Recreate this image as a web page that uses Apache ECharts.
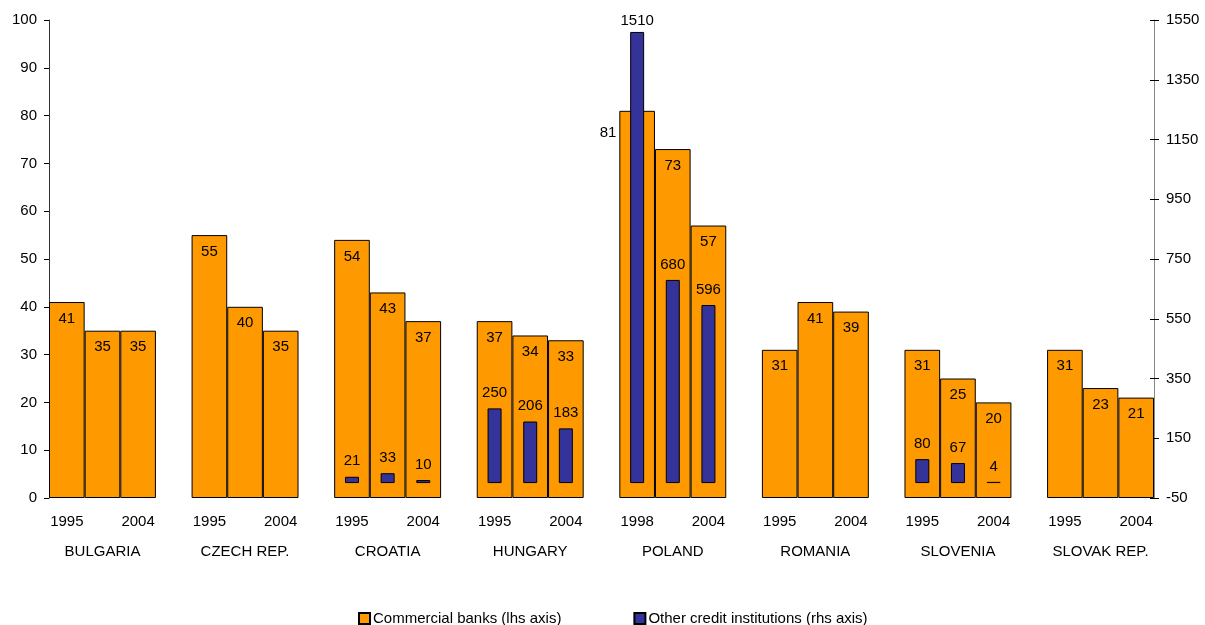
<!DOCTYPE html>
<html>
<head>
<meta charset="utf-8">
<script src="https://cdn.jsdelivr.net/npm/echarts@6/dist/echarts.min.js"></script>
<style>
  html, body { margin: 0; padding: 0; background: #fff; }
  #chart { width: 1205px; height: 625px; }
</style>
</head>
<body>
<div id="chart"></div>
<script>
// Banking sector: number of institutions per country, first and last year
const countries = ['BULGARIA', 'CZECH REP.', 'CROATIA', 'HUNGARY', 'POLAND', 'ROMANIA', 'SLOVENIA', 'SLOVAK REP.'];
const firstYears = ['1995', '1995', '1995', '1995', '1998', '1995', '1995', '1995'];
const lastYear = '2004';

// Commercial banks (left axis), three observations per country
const commercialBanks = [
  [41, 35, 35],
  [55, 40, 35],
  [54, 43, 37],
  [37, 34, 33],
  [81, 73, 57],
  [31, 41, 39],
  [31, 25, 20],
  [31, 23, 21]
];

// Other credit institutions (right axis); null where not reported
const otherInstitutions = [
  null,
  null,
  [21, 33, 10],
  [250, 206, 183],
  [1510, 680, 596],
  null,
  [80, 67, 4],
  null
];

// Axis ranges
const LEFT_MIN = 0, LEFT_MAX = 100, LEFT_STEP = 10;
const RIGHT_MIN = -50, RIGHT_MAX = 1550, RIGHT_STEP = 200;

const ORANGE = '#FF9900';
const BLUE = '#333399';
const FONT = "'Liberation Sans', Arial, sans-serif";

// Lay the groups out on one category axis: three bars per country, one empty slot between countries
const yearSlots = [], countrySlots = [], bankSlots = [], otherSlots = [];
countries.forEach((name, i) => {
  if (i > 0) {
    yearSlots.push(''); countrySlots.push(''); bankSlots.push(null); otherSlots.push(null);
  }
  for (let k = 0; k < 3; k++) {
    yearSlots.push(k === 0 ? firstYears[i] : (k === 2 ? lastYear : ''));
    countrySlots.push(k === 1 ? name : '');
    bankSlots.push(commercialBanks[i][k]);
    otherSlots.push(otherInstitutions[i] ? otherInstitutions[i][k] : null);
  }
});
const slotIds = yearSlots.map((_, i) => String(i));

const frac = (v, lo, hi) => (v - lo) / (hi - lo);

// Orange bar labels sit inside the top; moved to the left when the blue bar covers them
const bankData = bankSlots.map((v, i) => {
  if (v == null) return null;
  const o = otherSlots[i];
  if (o != null && frac(o, RIGHT_MIN, RIGHT_MAX) > frac(v, LEFT_MIN, LEFT_MAX)) {
    return { value: v, label: { position: [-3, 15], align: 'right', verticalAlign: 'top' } };
  }
  return v;
});

const otherData = otherSlots.map(v => {
  if (v == null) return null;
  if (frac(v, RIGHT_MIN, RIGHT_MAX) > 0.95) {
    return { value: v, label: { distance: 4 } };
  }
  return v;
});

const axisText = { color: '#000', fontSize: 15, fontFamily: FONT };

const chart = echarts.init(document.getElementById('chart'), null, { renderer: 'canvas' });
chart.setOption({
  animation: false,
  backgroundColor: '#fff',
  textStyle: { fontFamily: FONT },
  grid: { left: 49, right: 51, top: 20, bottom: 127, containLabel: false },
  legend: {
    left: 358,
    top: 611,
    padding: 0,
    icon: 'rect',
    itemWidth: 11,
    itemHeight: 11,
    itemGap: 72,
    textStyle: { color: '#000', fontSize: 15, fontFamily: FONT, padding: [0, 0, 0, -2] },
    data: ['Commercial banks (lhs axis)', 'Other credit institutions (rhs axis)']
  },
  xAxis: [
    {
      type: 'category',
      position: 'bottom',
      data: slotIds,
      axisLine: { show: false },
      axisTick: { show: false },
      axisLabel: Object.assign({ interval: 0, margin: 16, formatter: (v, i) => yearSlots[i] }, axisText)
    },
    {
      type: 'category',
      position: 'bottom',
      data: slotIds,
      axisLine: { show: false },
      axisTick: { show: false },
      axisLabel: Object.assign({ interval: 0, margin: 46, formatter: (v, i) => countrySlots[i] }, axisText)
    }
  ],
  yAxis: [
    {
      type: 'value',
      position: 'left',
      min: LEFT_MIN, max: LEFT_MAX, interval: LEFT_STEP,
      axisLine: { show: true, lineStyle: { color: '#333', width: 1 } },
      axisTick: { show: true, length: 5, lineStyle: { color: '#000' } },
      axisLabel: Object.assign({ margin: 12 }, axisText),
      splitLine: { show: false }
    },
    {
      // data scale for the other credit institutions
      type: 'value',
      position: 'right',
      min: RIGHT_MIN, max: RIGHT_MAX,
      show: false,
      splitLine: { show: false }
    },
    {
      // tick labels for the right-hand scale, counted from its minimum
      type: 'value',
      position: 'right',
      min: 0, max: RIGHT_MAX - RIGHT_MIN, interval: RIGHT_STEP,
      axisLine: { show: true, lineStyle: { color: '#888', width: 1 } },
      axisTick: { show: true, length: 5, lineStyle: { color: '#000' } },
      axisLabel: Object.assign({ margin: 12, formatter: v => String(v + RIGHT_MIN) }, axisText),
      splitLine: { show: false }
    },
    {
      // inner half of the crossing ticks on the right axis
      type: 'value',
      position: 'right',
      min: 0, max: RIGHT_MAX - RIGHT_MIN, interval: RIGHT_STEP,
      axisLine: { show: false },
      axisTick: { show: true, inside: true, length: 4, lineStyle: { color: '#000' } },
      axisLabel: { show: false },
      splitLine: { show: false }
    }
  ],
  series: [
    {
      name: 'Commercial banks (lhs axis)',
      type: 'bar',
      xAxisIndex: 0,
      yAxisIndex: 0,
      barCategoryGap: '0%',
      data: bankData,
      itemStyle: { color: ORANGE, borderColor: '#000', borderWidth: 1 },
      label: {
        show: true,
        position: 'insideTop',
        distance: 9,
        color: '#000',
        fontSize: 15,
        fontFamily: FONT
      },
      z: 2
    },
    {
      name: 'Other credit institutions (rhs axis)',
      type: 'bar',
      xAxisIndex: 1,
      yAxisIndex: 1,
      barWidth: 14,
      data: otherData,
      itemStyle: { color: BLUE, borderColor: '#000', borderWidth: 1 },
      label: {
        show: true,
        position: 'top',
        distance: 8,
        color: '#000',
        fontSize: 15,
        fontFamily: FONT
      },
      z: 3
    }
  ]
});
</script>
</body>
</html>
